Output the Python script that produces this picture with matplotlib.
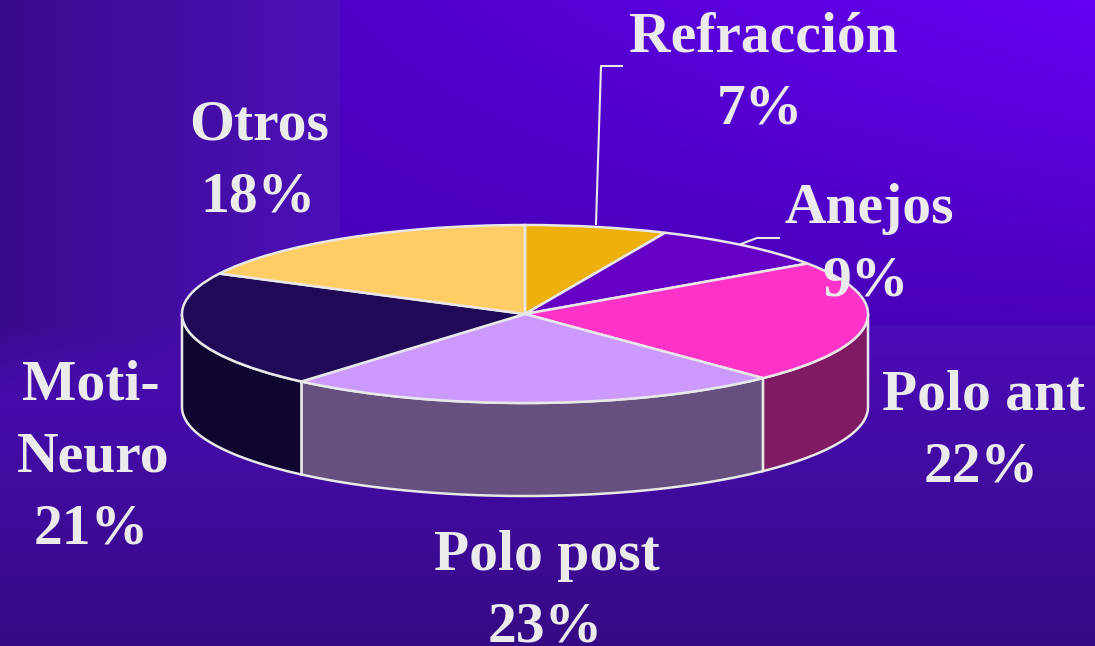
import numpy as np
import matplotlib
matplotlib.use("Agg")
import matplotlib.pyplot as plt
from matplotlib.colors import to_rgb

W, H = 1095, 646

names = ["Refracción", "Anejos", "Polo ant", "Polo post", "Moti-\nNeuro", "Otros"]
percents = [7, 9, 22, 23, 21, 18]
# slice sizes as measured on the drawn pie, the printed percents are rounded
slices = [6.7, 8.7, 22.4, 23.5, 21.2, 17.5]
top_colors = ["#eeb00c", "#6600c4", "#ff33c8", "#cc99ff", "#200a58", "#ffcc66"]
side_colors = ["#b08008", "#4b0090", "#7f1a63", "#65507f", "#10052e", "#b89040"]
# centre x and baseline y of every text line, in pixels
label_lines = [[(763, 51), (760, 123)],
               [(869, 223), (866, 295)],
               [(984, 409), (981, 481)],
               [(547, 570), (545, 641)],
               [(91, 399), (93, 471), (91, 543)],
               [(259, 139), (258, 211)]]
EDGE = "#e8e8e8"
TEXT = "#ebebeb"

def lerp(c0, c1, t):
    return np.asarray(to_rgb(c0)) * (1 - t)[..., None] + np.asarray(to_rgb(c1)) * t[..., None]

# background made of gradient patches, with the visible seams of the original
yy, xx = np.mgrid[0:H, 0:W] + 0.5
bg = lerp("#4b0cb8", "#360a85", np.clip((yy - 325) / 321, 0, 1))
left = xx < 340
up_left = lerp("#3a0a8c", "#4c10b8", xx / 340)
mix = np.clip((yy - 325) / 75, 0, 1)[..., None]
blended = up_left * (1 - mix) + bg * mix
mask = left & (yy < 400)
bg[mask] = blended[mask]
top_row = lerp("#5000c8", "#6600f5", (xx - 340) / 755)
bot_row = lerp("#4700b8", "#4a00b8", (xx - 340) / 755)
t = (yy / 325)[..., None]
main = top_row * (1 - t) + bot_row * t
up_right = (xx >= 340) & (yy < 325)
bg[up_right] = main[up_right]

fig = plt.figure(figsize=(W / 100, H / 100), dpi=100)
back = fig.add_axes([0, 0, 1, 1], zorder=0)
back.imshow(bg, extent=(0, W, H, 0), aspect="auto", interpolation="bilinear")
back.axis("off")

# pie axes: the box of the ellipse, so the circle gets squashed by the axes
x0, x1, y0, y1 = 182, 868, 225, 403
ax = fig.add_axes([x0 / W, 1 - y1 / H, (x1 - x0) / W, (y1 - y0) / H], zorder=1)
wedges, _ = ax.pie(slices, colors=top_colors, startangle=90, counterclock=False, radius=1,
                   wedgeprops=dict(edgecolor=EDGE, linewidth=1.8, clip_on=False, zorder=3))
ax.set_aspect("auto")
ax.set_xlim(-1, 1)
ax.set_ylim(-1, 1)

# side wall, only the front half of the rim shows
depth = 93 / 89
ends = np.cumsum(slices) / np.sum(slices) * 360
starts = ends - np.array(slices) / np.sum(slices) * 360
for a, b, col in zip(starts, ends, side_colors):
    a, b = max(a, 90), min(b, 270)
    if a >= b:
        continue
    th = np.radians(np.linspace(a, b, 80))
    xs = np.sin(th)
    ys = np.cos(th)
    ax.fill(np.r_[xs, xs[::-1]], np.r_[ys, ys[::-1] - depth], facecolor=col,
            edgecolor=EDGE, linewidth=1.8, clip_on=False, zorder=2)

over = fig.add_axes([0, 0, 1, 1], zorder=2)
over.set_xlim(0, W)
over.set_ylim(H, 0)
over.axis("off")

# leader lines
over.plot([596, 601, 622], [224, 66, 66], color=EDGE, lw=1.5)
over.plot([741, 757, 779], [244, 238, 238], color=EDGE, lw=1.5)

for name, v, lines in zip(names, percents, label_lines):
    parts = name.split("\n") + [f"{v}%"]
    for s, (x, y) in zip(parts, lines):
        over.text(x, y, s, ha="center", va="baseline", color=TEXT, fontsize=41.5,
                  family="Liberation Serif", fontweight="bold")

fig.savefig("out.png", dpi=100)
